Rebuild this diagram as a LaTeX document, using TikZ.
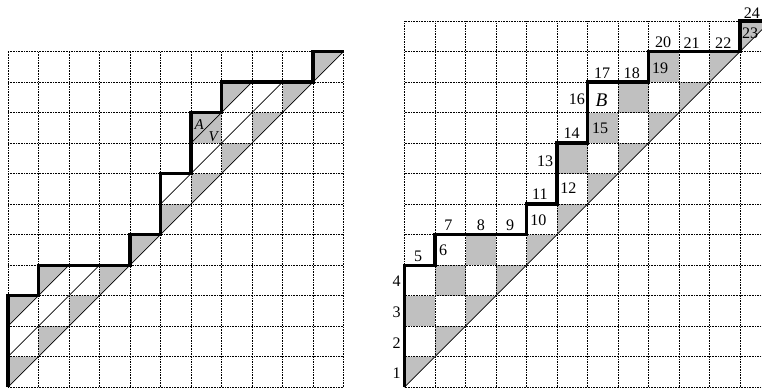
\documentclass[tikz,border=0pt]{standalone}
\usepackage{fontspec}
\setmainfont{Liberation Serif}
\definecolor{shadegray}{RGB}{192,192,192}
\begin{document}
\begin{tikzpicture}[x=1cm,y=1cm,
  gridline/.style={line width=0.5pt, dash pattern=on 0.6pt off 0.9pt, black},
  pathline/.style={line width=2.9pt, line join=miter},
  diagline/.style={line width=0.7pt},
  shade/.style={fill=shadegray},
  lab/.style={font=\fontsize{15}{18}\selectfont, inner sep=0pt},
  biglab/.style={font=\fontsize{18}{21}\selectfont\itshape, inner sep=0pt},
  smalllab/.style={font=\fontsize{14}{16}\selectfont\itshape, inner sep=0pt},
]
\clip (-0.262,-0.02) rectangle (24.72,12.69);
% ---------------- left grid ----------------
\foreach \i in {0,...,10}
  \fill[shade] (\i,\i) -- (\i,\i+1) -- (\i+1,\i+1) -- cycle;
\foreach \i in {0,1,6,7}
  \fill[shade] (\i,\i+2) -- (\i,\i+3) -- (\i+1,\i+3) -- cycle;
\fill[shade] (6,8) -- (7,8) -- (7,9) -- cycle;
\draw[gridline] (0,0) grid (11,11);
\draw[diagline] (0,0) -- (11,11);
\draw[diagline] (0,1) -- (3,4);
\draw[diagline] (5,6) -- (9,10);
\draw[diagline] (0,2) -- (2,4);
\draw[diagline] (6,8) -- (8,10);
\draw[pathline] (0,0) -- (0,3) -- (1,3) -- (1,4) -- (4,4) -- (4,5) -- (5,5) -- (5,7)
  -- (6,7) -- (6,9) -- (7,9) -- (7,10) -- (10,10) -- (10,11) -- (11,11);
\node[smalllab] (labA) at (6.27,8.61) {A};
\node[smalllab] (labV) at (6.73,8.21) {V};
% ---------------- right grid ----------------
\begin{scope}[shift={(13,0)}]
\foreach \i in {0,...,11}
  \fill[shade] (\i,\i) -- (\i,\i+1) -- (\i+1,\i+1) -- cycle;
\foreach \i/\j in {0/2,1/3,2/4,5/7,6/8,7/9,8/10}
  \fill[shade] (\i,\j) rectangle (\i+1,\j+1);
\draw[gridline] (0,0) grid (12,12);
\draw[diagline] (0,0) -- (12,12);
\draw[pathline] (0,0) -- (0,4) -- (1,4) -- (1,5) -- (4,5) -- (4,6) -- (5,6) -- (5,8)
  -- (6,8) -- (6,10) -- (8,10) -- (8,11) -- (11,11) -- (11,12) -- (12.5,12);
\node[lab] (n1) at (-0.26,0.47) {1};
\node[lab] (n2) at (-0.26,1.45) {2};
\node[lab] (n3) at (-0.26,2.45) {3};
\node[lab] (n4) at (-0.26,3.47) {4};
\node[lab] (n5) at (0.45,4.29) {5};
\node[lab] (n6) at (1.27,4.47) {6};
\node[lab] (n7) at (1.44,5.31) {7};
\node[lab] (n8) at (2.5,5.31) {8};
\node[lab] (n9) at (3.46,5.29) {9};
\node[lab] (n10) at (4.39,5.48) {10};
\node[lab] (n11) at (4.44,6.33) {11};
\node[lab] (n12) at (5.37,6.52) {12};
\node[lab] (n13) at (4.61,7.4) {13};
\node[lab] (n14) at (5.48,8.31) {14};
\node[lab] (n15) at (6.41,8.5) {15};
\node[lab] (n16) at (5.65,9.43) {16};
\node[biglab] (nB) at (6.46,9.41) {B};
\node[lab] (n17) at (6.48,10.3) {17};
\node[lab] (n18) at (7.45,10.3) {18};
\node[lab] (n19) at (8.38,10.45) {19};
\node[lab] (n20) at (8.48,11.29) {20};
\node[lab] (n21) at (9.41,11.29) {21};
\node[lab] (n22) at (10.45,11.29) {22};
\node[lab] (n23) at (11.33,11.6) {23};
\node[lab] (n24) at (11.39,12.25) {24};
\end{scope}
\end{tikzpicture}
\end{document}
